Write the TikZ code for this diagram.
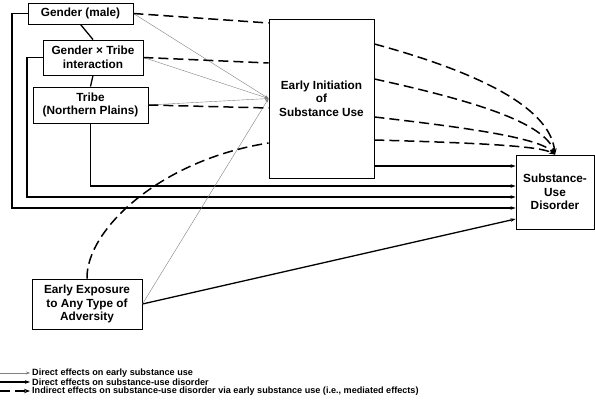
\documentclass[tikz,border=0pt]{standalone}
\usepackage{fontspec}
\setmainfont{Liberation Sans}
\usetikzlibrary{arrows.meta}

\begin{document}
\begin{tikzpicture}
[x = 1pt, y = -1pt,
box/.style = {draw, line width = 0.9pt, align = center, inner sep = 0pt,
  font = \fontsize{11.8}{13.5}\selectfont\bfseries},
direct/.style = {draw = gray, line width = 0.4pt, -{Stealth[length = 4pt, width = 3pt]}},
total/.style = {line width = 1.3pt, -{Stealth[length = 5pt, width = 3.5pt]}},
indirect/.style = {line width = 1.5pt, dash pattern = on 10pt off 5pt},
tip/.style = {-{Stealth[length = 6pt, width = 4.5pt]}},
link/.style = {line width = 1.3pt},
legend/.style = {anchor = west, inner sep = 0pt, font = \fontsize{9.1}{10}\selectfont\bfseries},
]
\useasboundingbox (0,0) rectangle (595,403);

\node [box, minimum width = 105pt, minimum height = 21pt] (male) at (80.5,13.5) {Gender (male)};
\node [box, minimum width = 100pt, minimum height = 35pt] (gxt) at (93,57.5) {Gender × Tribe\\interaction};
\node [box, minimum width = 115pt, minimum height = 36pt] (tribe) at (90.5,105) {Tribe\\(Northern Plains)};
\node [box, minimum width = 105pt, minimum height = 159pt] (early) at (321.5,98.5) {Early Initiation\\of\\Substance Use};
\node [box, minimum width = 78pt, minimum height = 74pt] (sud) at (555,192) {Substance-\\Use\\Disorder};
\node [box, minimum width = 110pt, minimum height = 50pt] (expo) at (87,304) {Early Exposure\\to Any Type of\\Adversity};

\draw [link] (male.south) -- (gxt.north);
\draw [link] (gxt.south) -- (tribe.north);

\draw [total] (male.west) -| (12,208) -- (sud.west |- 0,208);
\draw [total] (gxt.west) -| (27,197) -- (sud.west |- 0,197);
\draw [total] (tribe.south) |- (sud.west |- 0,186);
\draw [total] (early.east |- 0,166) -- (sud.west |- 0,166);
\draw [total] (expo.east) -- (sud.west |- 0,219);

\draw [direct] (male.east) -- (early.west);
\draw [direct] (gxt.east) -- (early.west);
\draw [direct] (tribe.east) -- (early.west);
\draw [direct] (expo.east) -- (early.west);

\draw [indirect] (male.east) -- (early.west |- 0,23);
\draw [indirect] (gxt.east) -- (early.west |- 0,63);
\draw [indirect] (tribe.east) -- (early.west |- 0,108);
\draw [indirect] (expo.north) .. controls (86,230) and (160,160) .. (early.west |- 0,143);
\draw [indirect, tip] (early.east |- 0,44) .. controls (470,70) and (550,105) .. (sud.north);
\draw [indirect, tip] (early.east |- 0,79) .. controls (470,100) and (545,122) .. (sud.north);
\draw [indirect, tip] (early.east |- 0,117) .. controls (470,128) and (540,138) .. (sud.north);
\draw [indirect, tip] (early.east |- 0,140) .. controls (480,143) and (540,146) .. (sud.north);

\node [legend] (key1) at (32,373) {Direct effects on early substance use};
\node [legend] (key2) at (32,382) {Direct effects on substance-use disorder};
\node [legend] (key3) at (32,391) {Indirect effects on substance-use disorder via early substance use (i.e., mediated effects)};
\coordinate (k1) at (0,373);
\coordinate (k2) at (0,382);
\coordinate (k3) at (0,391);
\draw [direct, shorten > = 2pt] (k1) -- (key1.west);
\draw [total, shorten > = 2pt] (k2) -- (key2.west);
\draw [indirect, tip, shorten > = 2pt] (k3) -- (key3.west);
\end{tikzpicture}
\end{document}
